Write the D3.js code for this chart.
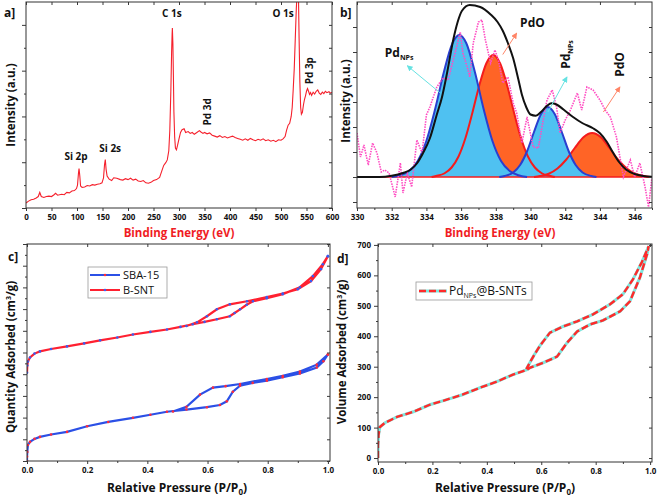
<!DOCTYPE html>
<html>
<head>
<meta charset="utf-8">
<script src="https://cdn.jsdelivr.net/npm/d3@7"></script>
<style>
  body { margin: 0; background: #fff; }
  text { font-family: "Open Sans", sans-serif; }
</style>
</head>
<body>
<svg id="fig" width="658" height="497"></svg>
<script>
// ---- a] XPS survey ----
const surveyBE = [0, 5, 10, 15, 20, 24, 27, 30, 35, 40, 45, 50, 55, 58, 62, 70, 75, 80, 85, 90, 95, 99, 101, 103, 104, 105.5, 107, 110, 115, 120, 125, 130, 135, 140, 145, 149, 152, 154, 155.5, 157, 159, 163, 168, 172, 178, 185, 190, 195, 200, 205, 210, 215, 220, 225, 230, 235, 240, 245, 250, 256, 262, 266, 270, 274, 277, 280, 282, 284, 285.5, 286.5, 287, 288, 289, 290, 291.5, 293, 295, 297, 300, 303, 306, 310, 313, 318, 322, 326, 330, 335, 340, 343, 347, 350, 355, 360, 365, 370, 375, 380, 385, 390, 395, 400, 405, 410, 415, 420, 425, 430, 435, 440, 445, 450, 455, 460, 465, 470, 475, 480, 485, 490, 495, 500, 504, 508, 511, 514, 517, 520, 522, 524, 526, 528, 530, 532, 534, 535.5, 537, 538.5, 540, 542, 544, 546, 548, 550, 552, 554, 556, 558, 560, 563, 566, 569, 572, 575, 578, 581, 584, 587, 590, 594, 597, 600];
const surveyI = [0.22, 0.30, 0.36, 0.38, 0.44, 0.50, 0.68, 0.50, 0.46, 0.50, 0.52, 0.50, 0.58, 0.64, 0.56, 0.60, 0.58, 0.68, 0.66, 0.74, 0.76, 0.85, 1.00, 1.55, 1.72, 1.40, 0.96, 0.90, 0.92, 0.98, 0.96, 1.02, 1.00, 1.04, 1.06, 1.10, 1.32, 1.90, 2.12, 1.70, 1.40, 1.26, 1.20, 1.32, 1.30, 1.24, 1.22, 1.28, 1.24, 1.30, 1.22, 1.26, 1.18, 1.16, 1.20, 1.10, 1.08, 1.12, 1.20, 1.24, 1.34, 1.60, 1.86, 1.98, 2.10, 2.50, 3.40, 5.10, 6.80, 7.60, 7.86, 7.20, 5.80, 4.20, 3.10, 2.62, 2.54, 2.72, 3.02, 3.30, 3.42, 3.46, 3.30, 3.34, 3.26, 3.30, 3.22, 3.30, 3.38, 3.32, 3.26, 3.30, 3.24, 3.28, 3.18, 3.14, 3.10, 3.16, 3.08, 3.12, 3.06, 3.10, 3.14, 3.08, 3.04, 3.00, 2.96, 3.02, 2.96, 3.04, 2.98, 2.94, 3.00, 2.96, 3.02, 2.94, 2.98, 2.92, 2.96, 2.90, 2.98, 2.96, 3.02, 3.12, 3.40, 3.62, 3.70, 4.00, 4.40, 5.20, 6.10, 7.40, 8.70, 9.60, 9.60, 7.40, 5.50, 4.40, 4.10, 4.18, 4.50, 4.74, 4.90, 5.10, 5.22, 5.10, 4.96, 5.04, 4.92, 5.06, 4.98, 5.10, 5.16, 5.02, 4.96, 5.06, 5.00, 5.10, 5.04, 5.08, 5.02, 5.06];
const surveyPeaks = ['C 1s', 'O 1s', 'Si 2p', 'Si 2s'];
const surveyPeakPos = [[286, 8.34], [504, 8.34], [98, 2.1], [165, 2.45]];
const surveyVertPeaks = ['Pd 3d', 'Pd 3p'];
const surveyVertPos = [[363, 4.2], [563, 6.0]];

// ---- b] Pd 3d high resolution ----
const rawBE = [330.0, 330.2, 330.4, 330.65, 330.9, 331.15, 331.4, 331.6, 331.85, 332.2, 332.5, 332.65, 332.9, 333.15, 333.45, 333.75, 334.0, 334.2, 334.6, 334.95, 335.25, 335.65, 335.95, 336.1, 336.35, 336.5, 336.7, 337.0, 337.2, 337.4, 337.7, 337.95, 338.15, 338.4, 338.7, 339.0, 339.2, 339.5, 339.8, 340.15, 340.45, 340.7, 340.95, 341.25, 341.5, 341.7, 342.0, 342.3, 342.7, 342.95, 343.25, 343.6, 344.0, 344.3, 344.6, 344.95, 345.35, 345.75, 346.0, 346.3, 346.6, 346.8, 347.0];
const rawI = [1.76, 0.8, 1.28, 0.48, 1.36, 0.96, 0.2, 0.28, 0.16, -0.8, 0.56, -0.64, 0.16, -0.4, 1.48, 0.96, 2.48, 2.8, 3.6, 3.96, 3.88, 4.96, 5.8, 4.96, 4.4, 4.0, 5.36, 6.2, 6.28, 5.48, 4.56, 5.08, 4.68, 3.76, 4.0, 2.96, 2.56, 1.36, 2.4, 1.2, 1.16, 2.16, 3.08, 3.48, 2.8, 1.76, 2.28, 2.68, 3.36, 2.68, 3.6, 3.48, 3.08, 2.68, 2.4, 1.6, 0, 0.68, 0, 0.56, -0.4, -1.2, 0];
const envBE = [330, 331.3, 332.0, 332.65, 333.1, 333.46, 333.8, 334.2, 334.6, 334.9, 335.2, 335.55, 335.8, 336.05, 336.5, 337.1, 337.7, 338.1, 338.4, 338.7, 339.0, 339.3, 339.5, 339.75, 340.0, 340.3, 340.6, 340.95, 341.2, 341.5, 341.9, 342.45, 343.0, 343.6, 344.0, 344.4, 344.75, 345.1, 345.5, 346.0, 346.5, 347];
const envI = [0, 0, 0.05, 0.16, 0.3, 0.55, 0.95, 1.55, 2.5, 3.2, 4.2, 5.5, 6.2, 6.65, 6.88, 6.8, 6.5, 6.2, 5.85, 5.35, 4.75, 3.9, 3.3, 2.8, 2.5, 2.45, 2.6, 2.85, 2.95, 2.9, 2.7, 2.4, 2.15, 1.95, 1.75, 1.4, 0.98, 0.6, 0.3, 0.12, 0.04, 0.01];
const np1BE = [332.0, 332.5, 333, 333.5, 334, 334.5, 335, 335.5, 335.9, 336.3, 336.8, 337.3, 337.8, 338.3, 338.8, 339.3, 339.8];
const np1I = [0, 0.07, 0.24, 0.64, 1.45, 2.71, 4.18, 5.35, 5.68, 5.35, 4.18, 2.71, 1.45, 0.64, 0.24, 0.07, 0];
const pdo1BE = [334.3, 334.55, 335.05, 335.45, 335.85, 336.25, 336.65, 337.05, 337.45, 337.85, 338.25, 338.65, 339.05, 339.45, 339.85, 340.25, 340.65, 341.15, 341.4];
const pdo1I = [0, 0.04, 0.15, 0.38, 0.82, 1.56, 2.57, 3.67, 4.54, 4.88, 4.54, 3.67, 2.57, 1.56, 0.82, 0.38, 0.15, 0.04, 0];
const np2BE = [338.2, 338.5, 339.0, 339.4, 339.8, 340.2, 340.6, 341.0, 341.4, 341.8, 342.2, 342.6, 343.0, 343.5, 343.8];
const np2I = [0, 0.04, 0.18, 0.48, 1.03, 1.80, 2.51, 2.8, 2.51, 1.80, 1.03, 0.48, 0.18, 0.04, 0];
const pdo2BE = [340.2, 340.55, 341.05, 341.55, 342.05, 342.55, 343.05, 343.55, 344.05, 344.55, 345.05, 345.55, 346.05, 346.55, 346.9];
const pdo2I = [0, 0.04, 0.13, 0.34, 0.69, 1.16, 1.59, 1.76, 1.59, 1.16, 0.69, 0.34, 0.13, 0.04, 0];
// annotations: [kind, labelBE, labelI, rotated, arrow from BE, from I, to BE, to I]
const pdNotes = [
  ['np', 331.6, 4.8, false, 334.8, 3.36, 332.9, 4.45],
  ['o', 339.4, 6.0, false, 338.4, 4.9, 339.2, 5.75],
  ['np', 342.3, 4.9, true, 341.0, 2.6, 342.1, 4.0],
  ['o', 345.4, 4.5, true, 344.2, 2.6, 345.15, 3.6]
];

// ---- c] N2 isotherms ----
const sbaAdsP = [0, 0, 0.001, 0.003, 0.01, 0.025, 0.043, 0.08, 0.133, 0.2, 0.27, 0.352, 0.41, 0.465, 0.53, 0.598, 0.641, 0.664, 0.684, 0.708, 0.75, 0.797, 0.85, 0.907, 0.963, 0.985, 1.0];
const sbaAdsV = [0, 20, 42, 74, 88, 102, 111, 122, 134, 160, 180, 199, 213, 227, 237, 248, 258, 275, 319, 347, 360, 370, 386, 403, 431, 460, 491];
const sbaDesP = [1.0, 0.963, 0.907, 0.85, 0.797, 0.708, 0.66, 0.618, 0.575, 0.53, 0.485];
const sbaDesV = [491, 444, 412, 392, 378, 355, 345, 338, 306, 250, 228];
const bsntAdsP = [0, 0.001, 0.003, 0.01, 0.025, 0.043, 0.08, 0.133, 0.19, 0.243, 0.3, 0.352, 0.41, 0.465, 0.51, 0.551, 0.59, 0.631, 0.674, 0.69, 0.708, 0.73, 0.751, 0.797, 0.85, 0.907, 0.95, 0.983, 1.0];
const bsntAdsV = [407, 440, 458, 477, 495, 505, 516, 528, 542, 556, 569, 583, 595, 606, 618, 630, 641, 653, 667, 682, 699, 720, 736, 750, 769, 801, 852, 907, 944];
const bsntDesP = [1.0, 0.977, 0.944, 0.9, 0.85, 0.797, 0.731, 0.674, 0.631, 0.598, 0.565, 0.53];
const bsntDesV = [944, 884, 829, 792, 772, 755, 736, 722, 699, 667, 639, 622];
const legendC = ['SBA-15', 'B-SNT'];

// ---- d] Pd NPs @ B-SNTs ----
const pdAdsP = [0, 0, 0.002, 0.007, 0.026, 0.07, 0.13, 0.19, 0.25, 0.31, 0.375, 0.437, 0.496, 0.548, 0.56, 0.607, 0.658, 0.695, 0.732, 0.78, 0.827, 0.89, 0.926, 0.963, 0.989, 0.995];
const pdAdsV = [0, 40, 76, 102, 116, 135, 152, 175, 191, 208, 231, 251, 274, 290, 297, 313, 333, 379, 416, 439, 452, 482, 515, 594, 670, 696];
const pdDesP = [0.995, 0.97, 0.937, 0.9, 0.853, 0.79, 0.732, 0.68, 0.632, 0.596, 0.575, 0.559, 0.545];
const pdDesV = [696, 644, 587, 538, 505, 472, 449, 432, 412, 370, 340, 315, 292];

const svg = d3.select('#fig');
const FONT = '"Open Sans", sans-serif';

// scales
const xa = d3.scaleLinear([0, 600], [26, 332]);
const ya = d3.scaleLinear([0, 9], [208, 2]);
const xb = d3.scaleLinear([330, 347], [357, 652]);
const yb = d3.scaleLinear([-1.24, 7], [208, 2]);
const xc = d3.scaleLinear([0, 1.007], [27, 330]);
const yc = d3.scaleLinear([0, 1000], [461, 244]);
const xd = d3.scaleLinear([0, 1.007], [378, 652]);
const yd = d3.scaleLinear([-13, 703], [462, 244]);

const defs = svg.append('defs');
function clipFor(id, x, y) {
  defs.append('clipPath').attr('id', id).append('rect')
    .attr('x', x.range()[0]).attr('y', y.range()[1])
    .attr('width', x.range()[1] - x.range()[0]).attr('height', y.range()[0] - y.range()[1]);
  return `url(#${id})`;
}

function styleAxis(g) {
  g.select('.domain').remove();
  g.selectAll('line').attr('stroke', '#3a3a3a');
  g.attr('font-family', FONT).attr('font-size', 8).attr('font-weight', 'bold');
  g.selectAll('text').attr('fill', '#111');
}

// draws the box, ticks and tick labels for one panel
function frame(x, y, o) {
  const [x0, x1] = x.range(), [y0, y1] = y.range();
  const g = svg.append('g');
  g.append('g').attr('transform', `translate(0,${y0})`)
    .call(d3.axisBottom(x).tickValues(o.xMajor).tickFormat(o.xFormat).tickSize(3).tickPadding(3)).call(styleAxis);
  if (o.xMinor) g.append('g').attr('transform', `translate(0,${y0})`)
    .call(d3.axisBottom(x).tickValues(o.xMinor).tickFormat('').tickSize(2)).call(styleAxis);
  g.append('g').attr('transform', `translate(0,${y1})`)
    .call(d3.axisTop(x).tickValues(o.xMajor).tickFormat('').tickSize(-3)).call(styleAxis);
  g.append('g').attr('transform', `translate(${x0},0)`)
    .call(d3.axisLeft(y).tickValues(o.yMajor).tickFormat(o.yFormat || '').tickSize(4).tickPadding(3)).call(styleAxis);
  if (o.yMinor) g.append('g').attr('transform', `translate(${x0},0)`)
    .call(d3.axisLeft(y).tickValues(o.yMinor).tickFormat('').tickSize(2)).call(styleAxis);
  g.append('g').attr('transform', `translate(${x1},0)`)
    .call(d3.axisRight(y).tickValues(o.yRight || o.yMajor).tickFormat('').tickSize(-3)).call(styleAxis);
  g.append('rect').attr('x', x0).attr('y', y1).attr('width', x1 - x0).attr('height', y0 - y1)
    .attr('fill', 'none').attr('stroke', '#333').attr('stroke-width', 1);
}

function label(text, x, y, size, opts = {}) {
  const t = svg.append('text').attr('x', x).attr('y', y).attr('font-size', size)
    .attr('font-weight', opts.weight || 'bold').attr('fill', opts.fill || '#111')
    .attr('text-anchor', opts.anchor || 'start').text(text);
  if (opts.rotate) t.attr('transform', `rotate(-90,${x},${y})`);
  return t;
}

// ================= a] =================
const clipA = clipFor('clipA', xa, ya);
svg.append('path')
  .datum(d3.zip(surveyBE, surveyI))
  .attr('clip-path', clipA)
  .attr('fill', 'none').attr('stroke', '#f5202c').attr('stroke-width', 1.1)
  .attr('d', d3.line().x(d => xa(d[0])).y(d => ya(d[1])));
frame(xa, ya, {
  xMajor: d3.range(0, 601, 50), xFormat: d3.format('d'),
  yMajor: [0, 2, 4, 6, 8], yMinor: [1, 3, 5, 7], yRight: d3.range(0, 9, 1)
});
surveyPeaks.forEach((p, i) => {
  label(p, xa(surveyPeakPos[i][0]), ya(surveyPeakPos[i][1]), 10, { anchor: 'middle' });
});
surveyVertPeaks.forEach((p, i) => {
  label(p, xa(surveyVertPos[i][0]), ya(surveyVertPos[i][1]), 10, { anchor: 'middle', rotate: true });
});
label('a]', 4, 17, 12);
label('Intensity (a.u.)', 15, 105, 11.5, { anchor: 'middle', rotate: true });
label('Binding Energy (eV)', 179, 237, 11.5, { anchor: 'middle', fill: '#f01c24' });

// ================= b] =================
const clipB = clipFor('clipB', xb, yb);
const gb = svg.append('g').attr('clip-path', clipB);
const areaB = d3.area().x(d => xb(d[0])).y0(yb(0)).y1(d => yb(d[1])).curve(d3.curveMonotoneX);
const lineB = d3.line().x(d => xb(d[0])).y(d => yb(d[1])).curve(d3.curveMonotoneX);
const comps = [
  { be: pdo1BE, v: pdo1I, fill: '#ff6426', stroke: '#f41c1c' },
  { be: np1BE, v: np1I, fill: '#4fc1f1', stroke: '#2a3fcf' },
  { be: pdo2BE, v: pdo2I, fill: '#ff6426', stroke: '#f41c1c' },
  { be: np2BE, v: np2I, fill: '#4fc1f1', stroke: '#2a3fcf' }
];
comps.forEach(c => {
  gb.append('path').datum(d3.zip(c.be, c.v)).attr('fill', c.fill).attr('d', areaB);
});
// baseline
gb.append('path').datum([[330, 0], [347, 0]]).attr('fill', 'none')
  .attr('stroke', '#f41c1c').attr('stroke-width', 1.5).attr('d', lineB);
comps.forEach(c => {
  gb.append('path').datum(d3.zip(c.be, c.v)).attr('fill', 'none')
    .attr('stroke', c.stroke).attr('stroke-width', 2).attr('d', lineB);
});
// raw data, dotted
gb.append('path').datum(d3.zip(rawBE, rawI)).attr('fill', 'none')
  .attr('stroke', '#ff4cc2').attr('stroke-width', 1.6).attr('stroke-dasharray', '1.5,1.1')
  .attr('d', d3.line().x(d => xb(d[0])).y(d => yb(d[1])));
// envelope
gb.append('path').datum(d3.zip(envBE, envI)).attr('fill', 'none')
  .attr('stroke', '#111').attr('stroke-width', 2).attr('d', lineB);
frame(xb, yb, {
  xMajor: d3.range(330, 347, 2), xFormat: d3.format('d'), xMinor: d3.range(331, 348, 2),
  yMajor: d3.range(-1, 7, 1)
});

// arrow heads
const noteColor = { np: '#66e2e2', o: '#ff8466' };
Object.entries(noteColor).forEach(([k, col]) => {
  defs.append('marker').attr('id', 'arr-' + k).attr('viewBox', '0 0 8 8')
    .attr('refX', 7).attr('refY', 4).attr('markerWidth', 6).attr('markerHeight', 6)
    .attr('orient', 'auto').append('path').attr('d', 'M0,0 L8,4 L0,8 z').attr('fill', col);
});
pdNotes.forEach(n => {
  svg.append('line')
    .attr('x1', xb(n[4])).attr('y1', yb(n[5])).attr('x2', xb(n[6])).attr('y2', yb(n[7]))
    .attr('stroke', noteColor[n[0]]).attr('stroke-width', 1).attr('marker-end', `url(#arr-${n[0]})`);
  const t = svg.append('text').attr('x', xb(n[1])).attr('y', yb(n[2]))
    .attr('font-size', 12).attr('font-weight', 'bold').attr('fill', '#111');
  if (n[3]) t.attr('text-anchor', 'middle').attr('transform', `rotate(-90,${xb(n[1])},${yb(n[2])})`);
  if (n[0] === 'np') {
    t.append('tspan').text('Pd');
    t.append('tspan').attr('font-size', 7).attr('dy', 3).text('NPs');
  } else {
    t.text('PdO');
  }
});
label('b]', 340, 17, 12);
label('Intensity (a.u.)', 350, 101, 11.5, { anchor: 'middle', rotate: true });
label('Binding Energy (eV)', 500, 237, 11.5, { anchor: 'middle', fill: '#f01c24' });

// ================= c] =================
const clipC = clipFor('clipC', xc, yc);
const lineC = d3.line().x(d => xc(d[0])).y(d => yc(d[1]));
const seriesC = [
  { p: sbaAdsP.concat(sbaDesP), v: sbaAdsV.concat(sbaDesV), line: '#2b50e6', dot: '#ff2a3a' },
  { p: bsntAdsP.concat(bsntDesP), v: bsntAdsV.concat(bsntDesV), line: '#ff2030', dot: '#3a5cf0' }
];
seriesC.forEach(s => {
  const pts = d3.zip(s.p, s.v);
  const g = svg.append('g').attr('clip-path', clipC);
  g.append('path').datum(pts).attr('fill', 'none').attr('stroke', s.line)
    .attr('stroke-width', 2.2).attr('d', lineC);
  g.selectAll('circle').data(pts).join('circle')
    .attr('cx', d => xc(d[0])).attr('cy', d => yc(d[1])).attr('r', 1.3).attr('fill', s.dot);
});
frame(xc, yc, {
  xMajor: d3.range(0, 1.01, 0.2), xFormat: d3.format('.1f'), xMinor: d3.range(0.1, 1.01, 0.2),
  yMajor: d3.range(0, 1001, 100), yMinor: d3.range(50, 1000, 100)
});
// legend c
svg.append('rect').attr('x', 88).attr('y', 267).attr('width', 79).attr('height', 31)
  .attr('fill', '#fff').attr('stroke', '#999').attr('stroke-width', 0.8);
legendC.forEach((name, i) => {
  const yy = 275 + i * 15;
  svg.append('line').attr('x1', 90).attr('x2', 120).attr('y1', yy).attr('y2', yy)
    .attr('stroke', seriesC[i].line).attr('stroke-width', 2);
  svg.append('circle').attr('cx', 105).attr('cy', yy).attr('r', 1.3).attr('fill', seriesC[i].dot);
  svg.append('text').attr('x', 123).attr('y', yy + 4).attr('font-size', 11)
    .attr('font-family', '"Liberation Sans", Arial, sans-serif').attr('fill', '#111').text(name);
});
label('c]', 8, 261, 12);
const qa = label('Quantity Adsorbed (cm', 15, 357, 11.5, { anchor: 'middle', rotate: true });
qa.append('tspan').attr('font-size', 7).attr('dy', -4).text('3');
qa.append('tspan').attr('dy', 4).text('/g)');
const rp1 = label('Relative Pressure (P/P', 177, 492, 12, { anchor: 'middle' });
rp1.append('tspan').attr('font-size', 8).attr('dy', 3).text('0');
rp1.append('tspan').attr('dy', -3).text(')');

// ================= d] =================
const clipD = clipFor('clipD', xd, yd);
const lineD = d3.line().x(d => xd(d[0])).y(d => yd(d[1]));
const ptsD = d3.zip(pdAdsP.concat(pdDesP), pdAdsV.concat(pdDesV));
const gd = svg.append('g').attr('clip-path', clipD);
gd.append('path').datum(ptsD).attr('fill', 'none').attr('stroke', '#7fe6dd')
  .attr('stroke-width', 3).attr('d', lineD);
gd.append('path').datum(ptsD).attr('fill', 'none').attr('stroke', '#ff2a2a')
  .attr('stroke-width', 2.4).attr('stroke-dasharray', '7,3').attr('d', lineD);
frame(xd, yd, {
  xMajor: d3.range(0, 1.01, 0.2), xFormat: d3.format('.1f'), xMinor: d3.range(0.1, 1.01, 0.2),
  yMajor: d3.range(0, 701, 100), yFormat: d3.format('d'), yMinor: d3.range(50, 700, 100)
});
// legend d
svg.append('rect').attr('x', 416).attr('y', 282).attr('width', 116).attr('height', 18)
  .attr('fill', '#fff').attr('stroke', '#999').attr('stroke-width', 0.8);
svg.append('line').attr('x1', 419).attr('x2', 447).attr('y1', 291).attr('y2', 291)
  .attr('stroke', '#7fe6dd').attr('stroke-width', 3);
svg.append('line').attr('x1', 419).attr('x2', 447).attr('y1', 291).attr('y2', 291)
  .attr('stroke', '#ff2a2a').attr('stroke-width', 2.4).attr('stroke-dasharray', '7,3');
const ld = svg.append('text').attr('x', 449).attr('y', 295).attr('font-size', 12)
  .attr('font-family', '"Liberation Sans", Arial, sans-serif').attr('fill', '#111');
ld.append('tspan').text('Pd');
ld.append('tspan').attr('font-size', 7).attr('dy', 3).text('NPs');
ld.append('tspan').attr('dy', -3).text('@B-SNTs');
label('d]', 337, 263, 12);
const va = label('Volume Adsorbed (cm', 346, 352, 11.5, { anchor: 'middle', rotate: true });
va.append('tspan').attr('font-size', 7).attr('dy', -4).text('3');
va.append('tspan').attr('dy', 4).text('/g)');
const rp2 = label('Relative Pressure (P/P', 505, 492, 12, { anchor: 'middle' });
rp2.append('tspan').attr('font-size', 8).attr('dy', 3).text('0');
rp2.append('tspan').attr('dy', -3).text(')');
</script>
</body>
</html>
